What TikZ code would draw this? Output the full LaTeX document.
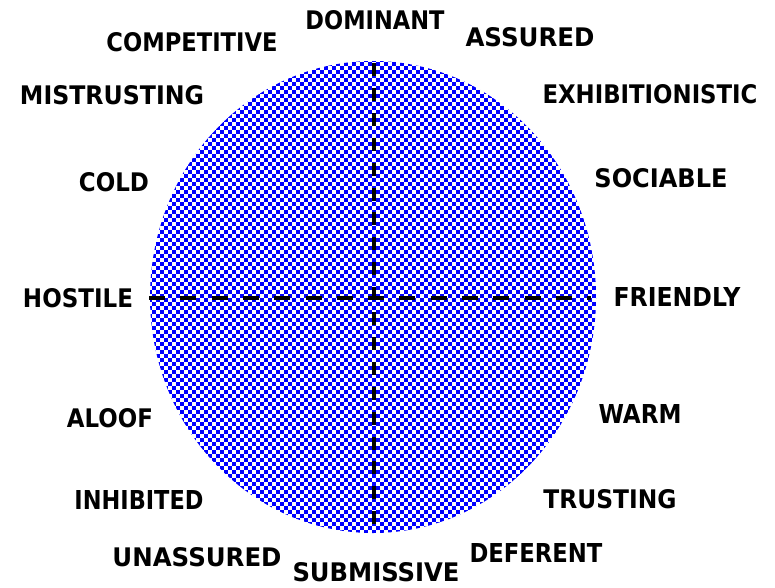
\documentclass[tikz,border=0pt]{standalone}
\usepackage{fontspec}
\setmainfont{DejaVu Sans}
\newcommand{\lab}[2]{\resizebox{#1pt}{19pt}{\bfseries #2}}
\begin{document}
\begin{tikzpicture}[x=1pt,y=-1pt,
  lbl/.style={inner sep=0pt, anchor=center, text=black},
  axisline/.style={line width=4pt, black},
  checkrow/.style={line width=4pt, blue, dash pattern=on 4pt off 4pt}]
\useasboundingbox (0,0) rectangle (775,587);
\coordinate (c) at (373,297);
\begin{scope}
  \clip (c) ellipse [x radius=223, y radius=236];
  \foreach \i in {0,...,118} {
    \pgfmathsetmacro{\yy}{60+4*\i}
    \pgfmathsetmacro{\ph}{mod(\i,2)*4}
    \draw[checkrow, dash phase=\ph pt] (148,\yy) -- (600,\yy);
  }
\end{scope}
\coordinate (hl) at (149,298);
\coordinate (hr) at (591,298);
\coordinate (vt) at (374,63);
\coordinate (vb) at (374,524);
\draw[axisline, dash pattern=on 16pt off 15.3pt] (hl) -- (hr);
\draw[axisline, dash pattern=on 13pt off 11.9pt] (vt) -- (vb);
\node[lbl] (dom) at (375,20) {\lab{139}{DOMINANT}};
\node[lbl] (com) at (192,42) {\lab{171}{COMPETITIVE}};
\node[lbl] (ass) at (530,37) {\lab{129}{ASSURED}};
\node[lbl] (mis) at (112,95) {\lab{184}{MISTRUSTING}};
\node[lbl] (exh) at (650,94) {\lab{215}{EXHIBITIONISTIC}};
\node[lbl] (cold) at (114,182) {\lab{70}{COLD}};
\node[lbl] (soc) at (661,178) {\lab{133}{SOCIABLE}};
\node[lbl] (hos) at (78,298) {\lab{110}{HOSTILE}};
\node[lbl] (fri) at (677,297) {\lab{127}{FRIENDLY}};
\node[lbl] (alo) at (110,418) {\lab{86}{ALOOF}};
\node[lbl] (warm) at (640,414) {\lab{83}{WARM}};
\node[lbl] (inh) at (139,500) {\lab{129}{INHIBITED}};
\node[lbl] (tru) at (610,499) {\lab{133}{TRUSTING}};
\node[lbl] (una) at (197,557) {\lab{169}{UNASSURED}};
\node[lbl] (sub) at (376,572) {\lab{167}{SUBMISSIVE}};
\node[lbl] (def) at (536,553) {\lab{133}{DEFERENT}};
\end{tikzpicture}
\end{document}
